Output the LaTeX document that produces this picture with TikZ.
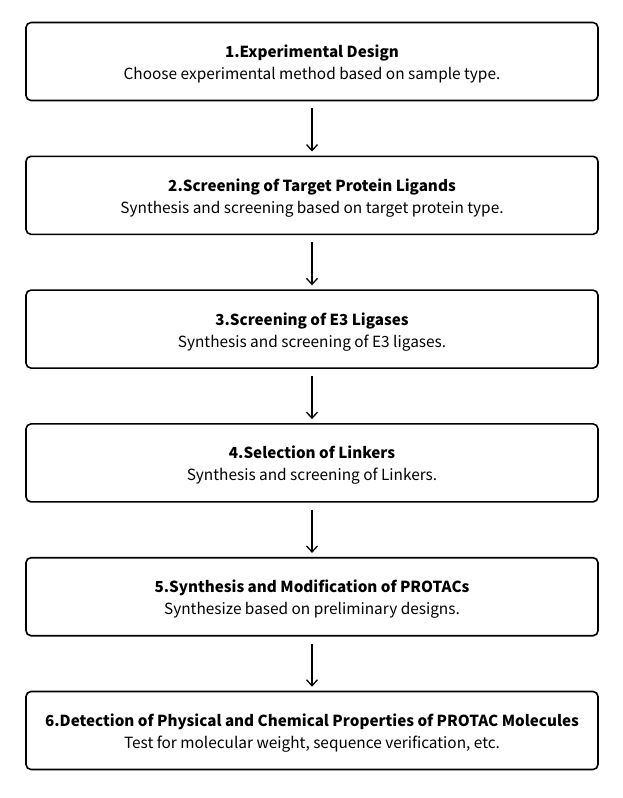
\documentclass[tikz,border=0pt]{standalone}
\usepackage{fontspec}
\setmainfont{Noto Sans CJK SC}
\usetikzlibrary{positioning, arrows.meta}

\tikzset{
  stepbox/.style={draw, line width=1.6pt, rounded corners=5pt, minimum width=572pt,
    minimum height=78pt, align=center, font=\fontsize{15.4}{22}\selectfont},
  flow/.style={-{Straight Barb[length=6pt, width=11pt]}, line width=1.3pt,
    shorten <=7pt, shorten >=4pt}
}
\newcommand{\steptitle}[1]{\rule{0pt}{18pt}{\fontsize{15.2}{22}\selectfont\bfseries #1}}

\begin{document}
\begin{tikzpicture}[x=1pt, y=1pt]
\useasboundingbox (0,0) rectangle (622,-798);
% Steps of the workflow
\node[stepbox] (s1) at (312,-61.5) {\steptitle{1.Experimental Design}\\Choose experimental method based on sample type.};
\node[stepbox, below=54.2pt of s1] (s2) {\steptitle{2.Screening of Target Protein Ligands}\\Synthesis and screening based on target protein type.};
\node[stepbox, below=54.2pt of s2] (s3) {\steptitle{3.Screening of E3 Ligases}\\Synthesis and screening of E3 ligases.};
\node[stepbox, below=54.2pt of s3] (s4) {\steptitle{4.Selection of Linkers}\\Synthesis and screening of Linkers.};
\node[stepbox, below=54.2pt of s4] (s5) {\steptitle{5.Synthesis and Modification of PROTACs}\\Synthesize based on preliminary designs.};
\node[stepbox, below=54.2pt of s5] (s6) {\steptitle{6.Detection of Physical and Chemical Properties of PROTAC Molecules}\\Test for molecular weight, sequence verification, etc.};
% Arrows between steps
\foreach \a/\b in {s1/s2, s2/s3, s3/s4, s4/s5, s5/s6}
  \draw[flow] (\a) -- (\b);
\end{tikzpicture}
\end{document}
